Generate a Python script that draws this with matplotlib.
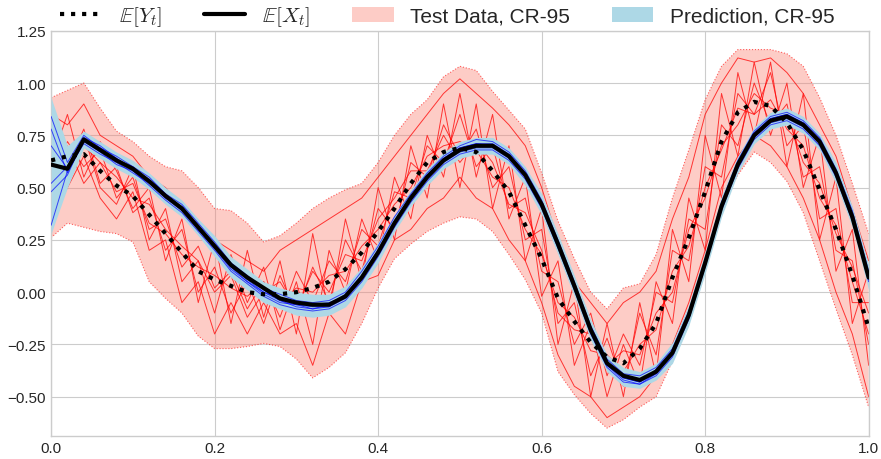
import numpy as np
import matplotlib
matplotlib.use("Agg")
import matplotlib.pyplot as plt

plt.style.use("seaborn-v0_8-whitegrid")
plt.rcParams["font.family"] = ["Liberation Sans", "DejaVu Sans"]
plt.rcParams["mathtext.fontset"] = "cm"

# time grid
t = np.linspace(0.0, 1.0, 51)

# E[Y_t] (test data mean)
mean_y = [0.63, 0.65, 0.66, 0.58, 0.51, 0.46, 0.37, 0.28, 0.19, 0.10,
          0.06, 0.03, 0.00, -0.01, -0.01, 0.00, 0.02, 0.05, 0.11, 0.19,
          0.29, 0.40, 0.52, 0.62, 0.67, 0.69, 0.67, 0.58, 0.48, 0.32,
          0.16, -0.03, -0.14, -0.24, -0.31, -0.34, -0.27, -0.15, 0.07, 0.26,
          0.48, 0.72, 0.86, 0.91, 0.89, 0.81, 0.68, 0.49, 0.30, 0.08, -0.17]

# E[X_t] (prediction mean)
mean_x = [0.61, 0.59, 0.73, 0.68, 0.63, 0.59, 0.53, 0.46, 0.40, 0.31,
          0.22, 0.13, 0.07, 0.02, -0.03, -0.05, -0.06, -0.06, -0.02, 0.07,
          0.19, 0.33, 0.45, 0.55, 0.63, 0.68, 0.70, 0.70, 0.65, 0.56,
          0.42, 0.23, 0.03, -0.18, -0.34, -0.40, -0.42, -0.38, -0.29, -0.11,
          0.14, 0.41, 0.61, 0.75, 0.82, 0.84, 0.80, 0.72, 0.57, 0.36, 0.07]

# test data CR-95 band
test_lo = [0.26, 0.33, 0.31, 0.29, 0.28, 0.24, 0.05, -0.03, -0.10, -0.21,
           -0.27, -0.27, -0.26, -0.245, -0.26, -0.32, -0.41, -0.36, -0.29, -0.15,
           0.02, 0.16, 0.23, 0.29, 0.33, 0.36, 0.35, 0.29, 0.18, 0.06,
           -0.10, -0.38, -0.49, -0.58, -0.65, -0.61, -0.55, -0.50, -0.33, -0.12,
           0.12, 0.42, 0.56, 0.67, 0.62, 0.53, 0.38, 0.15, -0.08, -0.30, -0.55]
test_hi = [0.93, 0.965, 1.00, 0.88, 0.77, 0.72, 0.65, 0.60, 0.58, 0.50,
           0.40, 0.39, 0.33, 0.24, 0.27, 0.33, 0.40, 0.45, 0.49, 0.52,
           0.62, 0.75, 0.85, 0.92, 1.03, 1.08, 1.06, 0.96, 0.87, 0.78,
           0.57, 0.34, 0.16, 0.00, -0.08, 0.02, 0.04, 0.18, 0.45, 0.68,
           0.92, 1.08, 1.16, 1.16, 1.16, 1.14, 1.08, 0.93, 0.75, 0.52, 0.28]

# prediction CR-95 band
pred_lo = [0.28, 0.50, 0.69, 0.64, 0.59, 0.55, 0.49, 0.42, 0.36, 0.27,
           0.17, 0.07, 0.01, -0.05, -0.08, -0.11, -0.12, -0.11, -0.07, 0.02,
           0.14, 0.29, 0.41, 0.51, 0.59, 0.64, 0.66, 0.66, 0.61, 0.51,
           0.37, 0.18, -0.02, -0.23, -0.38, -0.45, -0.46, -0.42, -0.34, -0.16,
           0.09, 0.36, 0.57, 0.71, 0.78, 0.80, 0.76, 0.68, 0.52, 0.31, 0.01]
pred_hi = [0.93, 0.70, 0.77, 0.72, 0.67, 0.63, 0.57, 0.50, 0.44, 0.35,
           0.27, 0.17, 0.11, 0.05, 0.02, 0.00, -0.01, -0.01, 0.03, 0.12,
           0.24, 0.37, 0.49, 0.59, 0.67, 0.72, 0.74, 0.74, 0.69, 0.60,
           0.47, 0.28, 0.08, -0.13, -0.30, -0.36, -0.38, -0.34, -0.24, -0.06,
           0.19, 0.46, 0.65, 0.79, 0.86, 0.88, 0.84, 0.76, 0.62, 0.41, 0.13]

# test data sample paths
test_paths = [
    [0.55, 0.72, 0.60, 0.68, 0.45, 0.55, 0.30, 0.35, 0.12, 0.22, 0.02, 0.10, -0.08, 0.05, -0.12, 0.10, -0.05,
     0.15, 0.05, 0.30, 0.22, 0.48, 0.45, 0.70, 0.62, 0.85, 0.60, 0.70, 0.40, 0.45, 0.10, 0.05, -0.25, -0.10,
     -0.40, -0.20, -0.35, 0.00, -0.05, 0.35, 0.30, 0.80, 0.70, 1.00, 0.80, 0.90, 0.55, 0.60, 0.20, 0.15, -0.25],
    [0.75, 0.60, 0.78, 0.52, 0.60, 0.38, 0.45, 0.20, 0.30, 0.00, 0.12, -0.10, 0.05, -0.15, 0.08, -0.10, 0.12,
     -0.05, 0.25, 0.10, 0.40, 0.30, 0.62, 0.55, 0.80, 0.65, 0.78, 0.50, 0.60, 0.25, 0.30, -0.15, -0.05, -0.40,
     -0.22, -0.45, -0.10, -0.30, 0.20, 0.15, 0.60, 0.55, 0.95, 0.85, 1.05, 0.70, 0.80, 0.35, 0.40, -0.05, -0.05],
    [0.45, 0.55, 0.75, 0.50, 0.42, 0.60, 0.25, 0.40, 0.05, 0.15, -0.10, 0.18, -0.05, 0.12, -0.18, 0.05, -0.25,
     0.20, 0.00, 0.35, 0.15, 0.55, 0.35, 0.75, 0.55, 0.95, 0.55, 0.85, 0.35, 0.55, -0.02, 0.15, -0.35, -0.15,
     -0.50, -0.25, -0.45, 0.05, -0.15, 0.45, 0.20, 0.95, 0.65, 1.10, 0.75, 1.00, 0.50, 0.75, 0.10, 0.30, -0.35],
    [0.62, 0.85, 0.55, 0.72, 0.58, 0.40, 0.50, 0.15, 0.35, -0.05, 0.25, -0.15, 0.20, -0.12, 0.15, -0.20, 0.28,
     -0.10, 0.35, 0.05, 0.50, 0.25, 0.70, 0.45, 0.90, 0.50, 0.90, 0.40, 0.70, 0.15, 0.40, -0.25, 0.05, -0.50,
     -0.15, -0.50, -0.05, -0.40, 0.30, 0.05, 0.75, 0.45, 1.05, 0.75, 1.10, 0.60, 0.95, 0.25, 0.55, -0.15, 0.10],
    [0.35, 0.50, 0.65, 0.45, 0.35, 0.48, 0.20, 0.25, -0.05, 0.05, -0.20, -0.05, -0.20, -0.05, -0.20, -0.15, -0.35,
     -0.10, -0.20, 0.05, 0.08, 0.25, 0.30, 0.40, 0.45, 0.55, 0.45, 0.40, 0.25, 0.15, -0.05, -0.30, -0.45, -0.50,
     -0.60, -0.55, -0.50, -0.40, -0.25, -0.05, 0.20, 0.50, 0.65, 0.75, 0.70, 0.60, 0.45, 0.25, 0.00, -0.20, -0.50],
    [0.85, 0.80, 0.90, 0.75, 0.70, 0.65, 0.55, 0.50, 0.40, 0.30, 0.25, 0.20, 0.15, 0.10, 0.20, 0.25, 0.30,
     0.35, 0.40, 0.45, 0.55, 0.65, 0.75, 0.85, 0.95, 1.02, 0.95, 0.88, 0.80, 0.70, 0.50, 0.25, 0.05, -0.05,
     -0.15, -0.05, 0.00, 0.10, 0.35, 0.55, 0.85, 1.00, 1.12, 1.10, 1.12, 1.05, 0.95, 0.80, 0.65, 0.40, 0.15],
    [0.68, 0.58, 0.70, 0.62, 0.48, 0.52, 0.33, 0.28, 0.18, 0.12, 0.08, 0.02, -0.02, 0.05, -0.05, 0.02, 0.00,
     0.08, 0.10, 0.22, 0.30, 0.42, 0.50, 0.65, 0.70, 0.72, 0.68, 0.55, 0.50, 0.30, 0.18, -0.05, -0.12, -0.28,
     -0.30, -0.38, -0.25, -0.18, 0.10, 0.22, 0.50, 0.68, 0.88, 0.85, 0.92, 0.78, 0.70, 0.45, 0.32, 0.05, -0.20],
    [0.58, 0.70, 0.52, 0.62, 0.55, 0.45, 0.42, 0.30, 0.22, 0.15, 0.00, 0.08, -0.12, 0.00, 0.05, -0.08, 0.10,
     0.00, 0.18, 0.15, 0.35, 0.45, 0.58, 0.58, 0.75, 0.62, 0.72, 0.62, 0.42, 0.38, 0.20, -0.10, -0.18, -0.20,
     -0.35, -0.28, -0.30, -0.10, 0.00, 0.30, 0.45, 0.70, 0.80, 0.95, 0.88, 0.85, 0.62, 0.52, 0.28, 0.12, -0.10],
]

# prediction sample paths
pred_paths = [
    [0.84, 0.62, 0.75, 0.69, 0.65, 0.60, 0.55, 0.47, 0.42, 0.33, 0.24, 0.14, 0.08, 0.02, -0.01, -0.04, -0.05,
     -0.04, 0.00, 0.10, 0.22, 0.36, 0.47, 0.57, 0.65, 0.70, 0.73, 0.72, 0.67, 0.58, 0.44, 0.25, 0.05, -0.16,
     -0.32, -0.39, -0.40, -0.36, -0.27, -0.09, 0.16, 0.43, 0.63, 0.77, 0.84, 0.86, 0.82, 0.74, 0.59, 0.39, 0.10],
    [0.78, 0.57, 0.72, 0.67, 0.61, 0.58, 0.51, 0.44, 0.38, 0.29, 0.20, 0.10, 0.04, -0.02, -0.06, -0.08, -0.09,
     -0.08, -0.04, 0.05, 0.17, 0.31, 0.43, 0.53, 0.61, 0.66, 0.68, 0.68, 0.63, 0.54, 0.40, 0.21, 0.01, -0.20,
     -0.36, -0.43, -0.44, -0.40, -0.31, -0.13, 0.12, 0.39, 0.59, 0.73, 0.80, 0.82, 0.78, 0.70, 0.55, 0.34, 0.05],
    [0.52, 0.60, 0.74, 0.70, 0.64, 0.59, 0.54, 0.47, 0.39, 0.31, 0.22, 0.12, 0.07, 0.01, -0.04, -0.07, -0.08,
     -0.06, -0.01, 0.08, 0.20, 0.34, 0.46, 0.56, 0.64, 0.69, 0.71, 0.71, 0.66, 0.57, 0.43, 0.24, 0.04, -0.17,
     -0.33, -0.41, -0.43, -0.37, -0.28, -0.10, 0.15, 0.42, 0.62, 0.76, 0.83, 0.85, 0.81, 0.73, 0.58, 0.37, 0.08],
    [0.32, 0.58, 0.71, 0.66, 0.62, 0.57, 0.52, 0.45, 0.40, 0.30, 0.21, 0.11, 0.05, -0.01, -0.05, -0.06, -0.07,
     -0.07, -0.03, 0.06, 0.18, 0.32, 0.44, 0.54, 0.62, 0.67, 0.69, 0.69, 0.64, 0.55, 0.41, 0.22, 0.02, -0.19,
     -0.35, -0.41, -0.43, -0.39, -0.30, -0.12, 0.13, 0.40, 0.60, 0.74, 0.81, 0.83, 0.79, 0.71, 0.56, 0.35, 0.06],
    [0.48, 0.56, 0.73, 0.69, 0.63, 0.60, 0.53, 0.46, 0.41, 0.32, 0.23, 0.13, 0.06, 0.00, -0.03, -0.05, -0.06,
     -0.05, -0.02, 0.07, 0.19, 0.33, 0.45, 0.55, 0.63, 0.68, 0.70, 0.70, 0.65, 0.56, 0.42, 0.23, 0.03, -0.18,
     -0.34, -0.40, -0.42, -0.38, -0.29, -0.11, 0.14, 0.41, 0.61, 0.75, 0.82, 0.84, 0.80, 0.72, 0.57, 0.36, 0.07],
    [0.70, 0.59, 0.72, 0.68, 0.64, 0.58, 0.53, 0.45, 0.39, 0.30, 0.21, 0.12, 0.05, 0.00, -0.04, -0.06, -0.08,
     -0.07, -0.02, 0.08, 0.20, 0.33, 0.46, 0.56, 0.64, 0.69, 0.71, 0.70, 0.65, 0.56, 0.42, 0.24, 0.03, -0.19,
     -0.35, -0.42, -0.44, -0.39, -0.29, -0.11, 0.15, 0.42, 0.62, 0.76, 0.83, 0.85, 0.81, 0.73, 0.58, 0.37, 0.08],
]

fig = plt.figure(figsize=(8.81, 4.6), dpi=100)
ax = fig.add_axes([0.058, 0.049, 0.928, 0.882])

ax.fill_between(t, test_lo, test_hi, facecolor="salmon", alpha=0.4, lw=0,
                zorder=1, label="Test Data, CR-95")
ax.plot(t, test_lo, color="red", ls=":", lw=0.8, alpha=0.6, zorder=1)
ax.plot(t, test_hi, color="red", ls=":", lw=0.8, alpha=0.6, zorder=1)
for p in test_paths:
    ax.plot(t, p, color="red", lw=0.7, alpha=0.75, zorder=2)

ax.fill_between(t, pred_lo, pred_hi, color="lightblue", lw=0, zorder=3,
                label="Prediction, CR-95")
for p in pred_paths:
    ax.plot(t, p, color="blue", lw=0.7, alpha=0.7, zorder=4)

ax.plot(t, mean_x, color="black", lw=3, zorder=5, label=r"$\mathbb{E}[X_t]$")
ax.plot(t, mean_y, color="black", lw=3, ls=":", zorder=6, label=r"$\mathbb{E}[Y_t]$")

ax.set_xlim(0, 1)
ax.set_ylim(-0.69, 1.25)
ax.set_yticks([-0.5, -0.25, 0.0, 0.25, 0.5, 0.75, 1.0, 1.25])
ax.tick_params(labelsize=11)

h, l = ax.get_legend_handles_labels()
order = [3, 2, 0, 1]
ax.legend([h[i] for i in order], [l[i] for i in order], ncol=4,
          loc="lower center", bbox_to_anchor=(0.485, 0.985), frameon=False,
          fontsize=15, borderaxespad=0.0)

fig.savefig("out.png", dpi=100)
